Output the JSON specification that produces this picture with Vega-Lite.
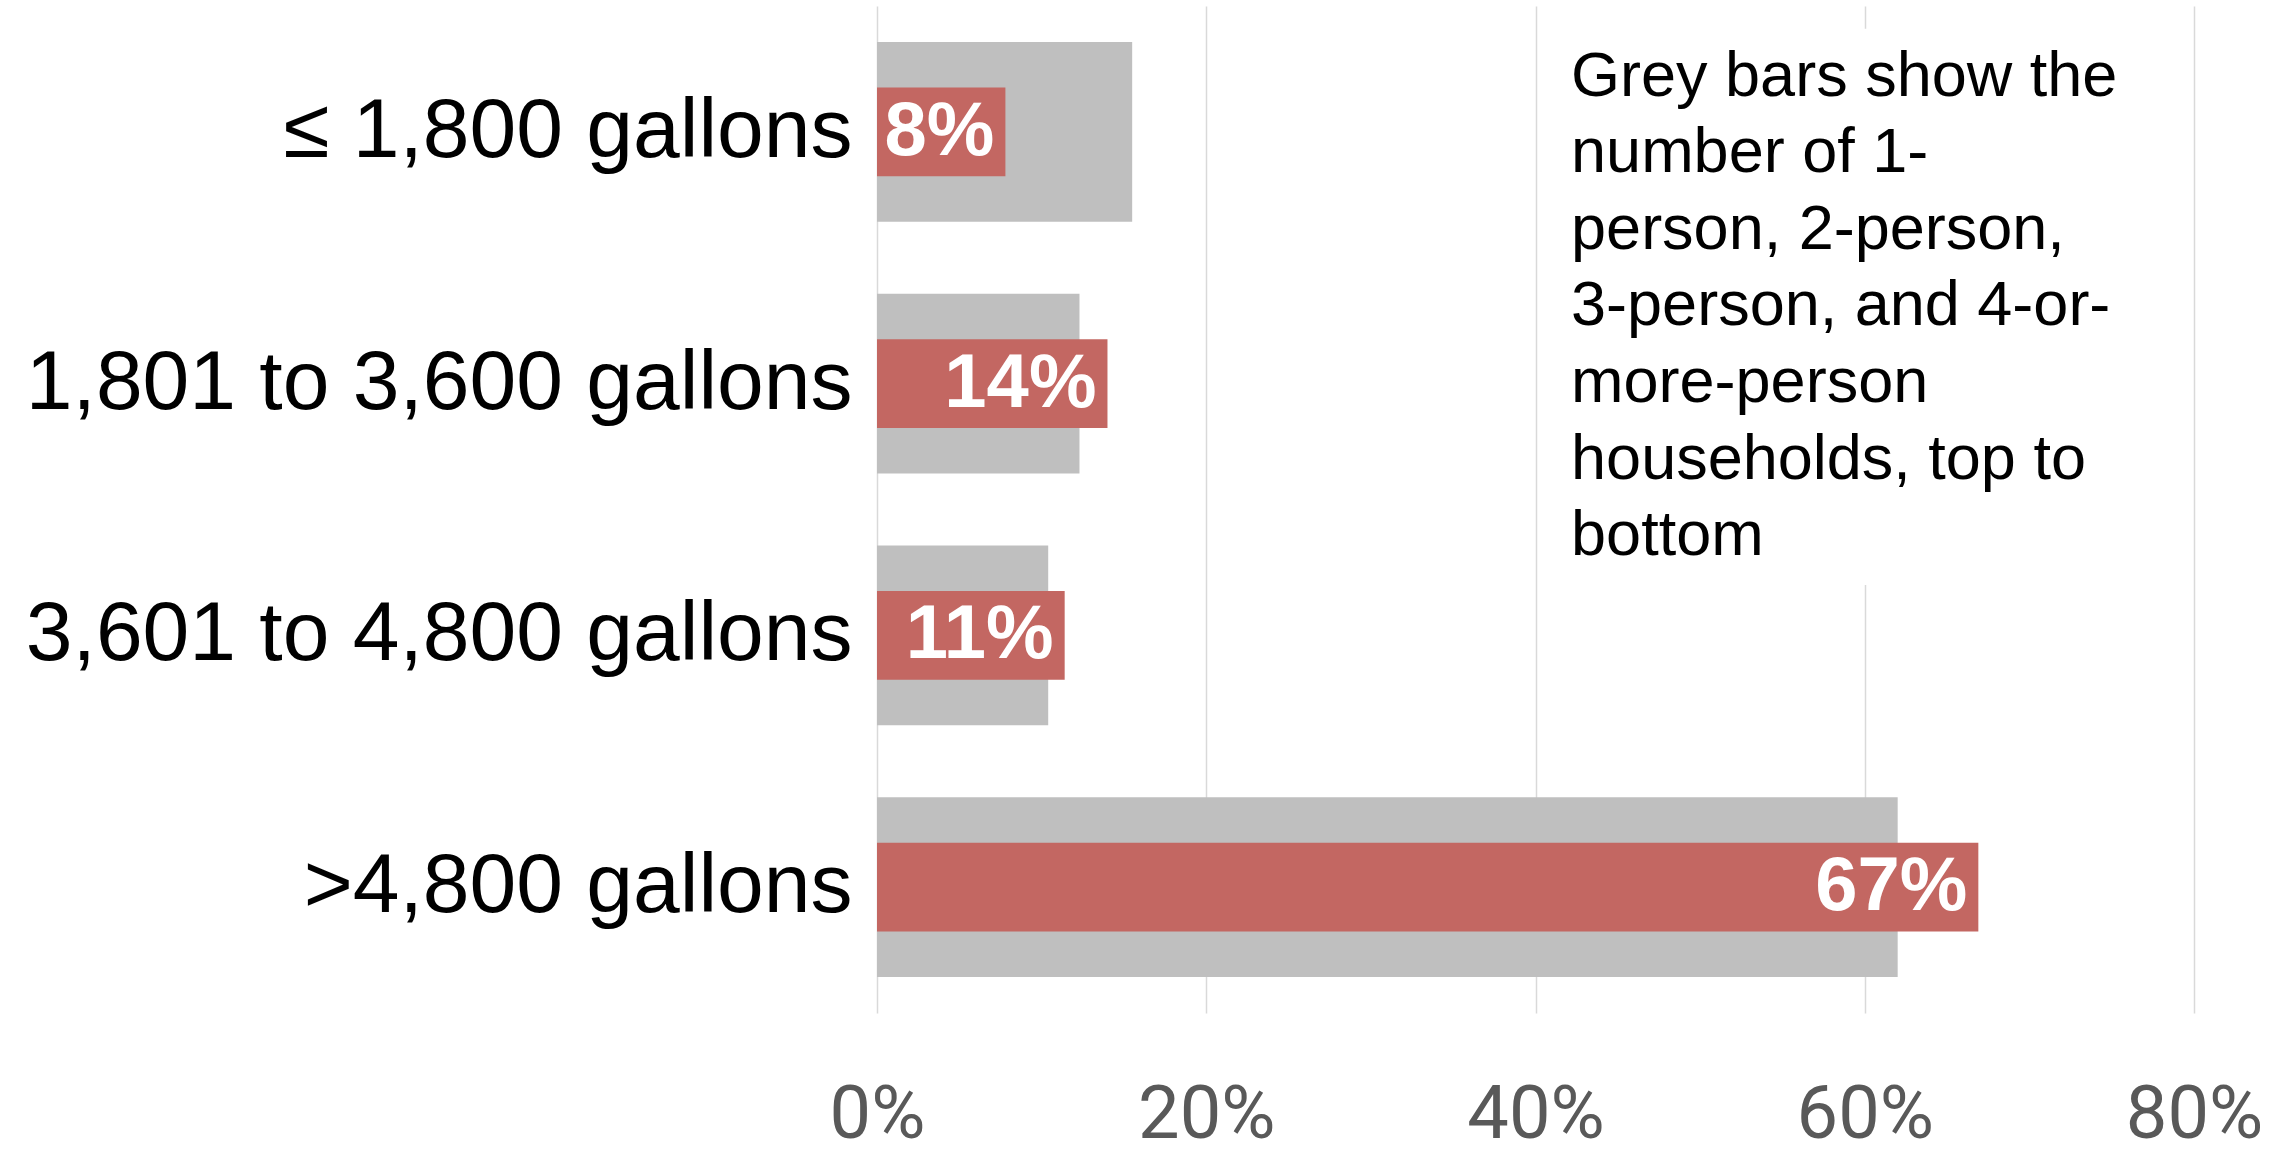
{
  "$schema": "https://vega.github.io/schema/vega-lite/v6.json",
  "width": 1317,
  "height": 1007,
  "autosize": {"type": "none"},
  "padding": {"left": 877, "top": 6, "right": 80, "bottom": 142},
  "background": "white",
  "config": {"view": {"stroke": null}, "font": "Liberation Sans"},
  "datasets": {
    "bars": [
      {"cat": "≤ 1,800 gallons", "grey": 0.155, "red": 0.078, "label": "8%"},
      {"cat": "1,801 to 3,600 gallons", "grey": 0.123, "red": 0.14, "label": "14%"},
      {"cat": "3,601 to 4,800 gallons", "grey": 0.104, "red": 0.114, "label": "11%"},
      {"cat": ">4,800 gallons", "grey": 0.62, "red": 0.669, "label": "67%"}
    ],
    "note": [
      {"x0": 0.41, "x1": 0.79, "y0": 0.09, "y1": 2.3, "tx": 0.4216, "ty": 0.356,
       "lines": ["Grey bars show the", "number of 1-", "person, 2-person,", "3-person, and 4-or-", "more-person", "households, top to", "bottom"]}
    ]
  },
  "resolve": {"scale": {"y": "independent"}},
  "layer": [
    {
      "data": {"name": "bars"},
      "encoding": {
        "y": {
          "field": "cat", "type": "nominal", "sort": null,
          "scale": {"paddingInner": 0.2857, "paddingOuter": 0.1429},
          "axis": {"title": null, "domain": false, "ticks": false, "labelFontSize": 84, "labelColor": "#000000", "labelPadding": 25, "labelLimit": 1200, "labelFont": "Liberation Sans"}
        }
      },
      "layer": [
        {
          "mark": {"type": "bar", "color": "#BFBFBF"},
          "encoding": {
            "x": {
              "field": "grey", "type": "quantitative",
              "scale": {"domain": [0, 0.8], "nice": false},
              "axis": {"title": null, "format": ".0%", "values": [0, 0.2, 0.4, 0.6, 0.8], "grid": true, "gridColor": "#D9D9D9", "gridWidth": 1.5, "domain": false, "ticks": false, "labelFontSize": 74, "labelColor": "#595959", "labelPadding": 66, "labelFlush": false, "labelOverlap": false, "labelFont": "Roboto"}
            }
          }
        },
        {
          "mark": {"type": "bar", "color": "#C36762", "height": {"band": 0.494}},
          "encoding": {"x": {"field": "red", "type": "quantitative"}}
        },
        {
          "mark": {"type": "text", "align": "right", "baseline": "middle", "dx": -11, "color": "white", "fontWeight": "bold", "fontSize": 76, "font": "Liberation Sans"},
          "encoding": {
            "x": {"field": "red", "type": "quantitative"},
            "text": {"field": "label", "type": "nominal"}
          }
        }
      ]
    },
    {
      "data": {"name": "note"},
      "layer": [
        {
          "mark": {"type": "rect", "color": "white"},
          "encoding": {
            "x": {"field": "x0", "type": "quantitative"},
            "x2": {"field": "x1"},
            "y": {"field": "y0", "type": "quantitative", "scale": {"domain": [0, 4], "reverse": true, "nice": false, "zero": false}, "axis": null},
            "y2": {"field": "y1"}
          }
        },
        {
          "mark": {"type": "text", "align": "left", "baseline": "alphabetic", "fontSize": 63, "lineHeight": 76.6, "color": "#000000", "font": "Liberation Sans"},
          "encoding": {
            "x": {"field": "tx", "type": "quantitative"},
            "y": {"field": "ty", "type": "quantitative"},
            "text": {"field": "lines", "type": "nominal"}
          }
        }
      ]
    }
  ]
}
